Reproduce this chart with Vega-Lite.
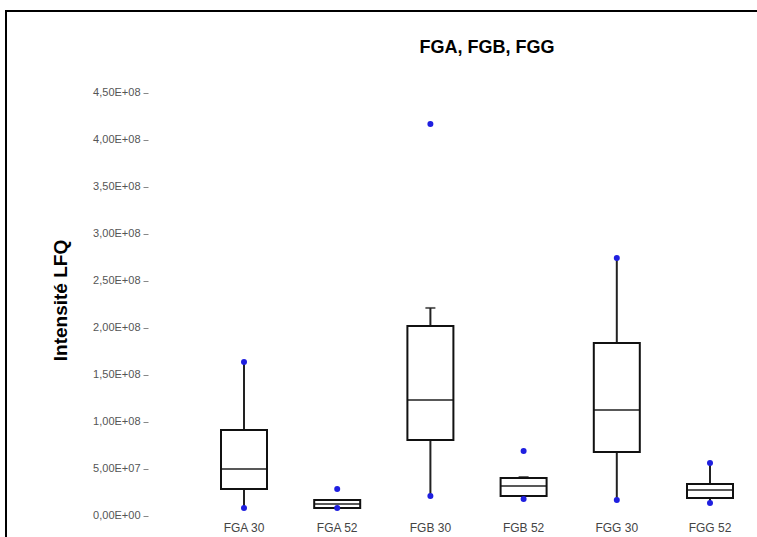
{
  "$schema": "https://vega.github.io/schema/vega-lite/v6.json",
  "autosize": "none",
  "width": 764,
  "height": 530,
  "padding": {"left": 6, "top": 11, "right": 0, "bottom": 0},
  "background": "white",
  "config": {
    "view": {"stroke": "black", "strokeWidth": 2},
    "font": "Liberation Sans"
  },
  "title": {
    "text": "FGA, FGB, FGG",
    "fontSize": 18,
    "fontWeight": "bold",
    "font": "Liberation Sans",
    "anchor": "middle",
    "dx": 99,
    "offset": -46,
    "color": "black"
  },
  "datasets": {
    "boxes": [
      {"g": "FGA 30", "lo": 8.5e6, "q1": 28.7e6, "med": 50.0e6, "q3": 91.5e6, "hi": 163.8e6},
      {"g": "FGA 52", "lo": 8.5e6, "q1": 8.5e6, "med": 12.8e6, "q3": 17.0e6, "hi": 17.0e6},
      {"g": "FGB 30", "lo": 21.3e6, "q1": 80.9e6, "med": 123.4e6, "q3": 202.1e6, "hi": 221.3e6},
      {"g": "FGB 52", "lo": 18.1e6, "q1": 21.3e6, "med": 31.9e6, "q3": 40.4e6, "hi": 40.4e6},
      {"g": "FGG 30", "lo": 17.0e6, "q1": 68.1e6, "med": 112.8e6, "q3": 184.0e6, "hi": 274.5e6},
      {"g": "FGG 52", "lo": 13.8e6, "q1": 19.1e6, "med": 27.7e6, "q3": 34.0e6, "hi": 56.4e6}
    ],
    "caps": [
      {"g": "FGB 30", "v": 221.3e6},
      {"g": "FGB 52", "v": 41.5e6}
    ],
    "points": [
      {"g": "FGA 30", "v": 163.8e6},
      {"g": "FGA 30", "v": 8.5e6},
      {"g": "FGA 52", "v": 28.7e6},
      {"g": "FGA 52", "v": 8.5e6},
      {"g": "FGB 30", "v": 417.0e6},
      {"g": "FGB 30", "v": 21.3e6},
      {"g": "FGB 52", "v": 69.1e6},
      {"g": "FGB 52", "v": 18.1e6},
      {"g": "FGG 30", "v": 274.5e6},
      {"g": "FGG 30", "v": 17.0e6},
      {"g": "FGG 52", "v": 56.4e6},
      {"g": "FGG 52", "v": 13.8e6}
    ]
  },
  "encoding": {
    "x": {
      "field": "g",
      "type": "nominal",
      "sort": null,
      "scale": {"range": [191.4, 750.6], "paddingInner": 0, "paddingOuter": 0},
      "axis": {
        "title": null,
        "orient": "bottom",
        "offset": -21,
        "domain": false,
        "ticks": false,
        "labelAngle": 0,
        "labelFontSize": 12,
        "labelColor": "#444",
        "labelPadding": 2,
        "labelFont": "Liberation Sans"
      }
    }
  },
  "layer": [
    {
      "data": {"name": "boxes"},
      "mark": {"type": "rule", "color": "#222", "strokeWidth": 2},
      "encoding": {
        "y": {
          "field": "lo",
          "type": "quantitative",
          "scale": {"domain": [-26.6e6, 537.2e6], "nice": false, "zero": false},
          "axis": {
            "title": "Intensité LFQ",
            "titleFontSize": 19,
            "titleFontWeight": "bold",
            "titleFont": "Liberation Sans",
            "titleColor": "black",
            "titleAngle": -90,
            "titleX": -88,
            "titleY": 289,
            "titleBaseline": "middle",
            "titleAlign": "center",
            "offset": -142,
            "domain": false,
            "ticks": true,
            "tickSize": 5,
            "tickColor": "#888",
            "grid": false,
            "values": [0, 5e7, 1e8, 1.5e8, 2e8, 2.5e8, 3e8, 3.5e8, 4e8, 4.5e8],
            "labelFontSize": 11,
            "labelColor": "#555",
            "labelPadding": 3,
            "labelFont": "Liberation Sans",
            "labelExpr": "datum.value == 0 ? '0,00E+00' : replace(format(datum.value / pow(10, floor(log(datum.value) / LN10 + 1e-9)), '.2f'), '.', ',') + 'E+' + (floor(log(datum.value) / LN10 + 1e-9) < 10 ? '0' : '') + floor(log(datum.value) / LN10 + 1e-9)"
          }
        },
        "y2": {"field": "hi"}
      }
    },
    {
      "data": {"name": "caps"},
      "mark": {"type": "tick", "color": "#222", "thickness": 2, "size": 10},
      "encoding": {"y": {"field": "v", "type": "quantitative"}}
    },
    {
      "data": {"name": "boxes"},
      "mark": {"type": "bar", "fill": "white", "stroke": "#111", "strokeWidth": 2, "width": 46},
      "encoding": {
        "y": {"field": "q1", "type": "quantitative"},
        "y2": {"field": "q3"}
      }
    },
    {
      "data": {"name": "boxes"},
      "mark": {"type": "tick", "color": "#111", "thickness": 2, "size": 46},
      "encoding": {"y": {"field": "med", "type": "quantitative"}}
    },
    {
      "data": {"name": "points"},
      "mark": {"type": "circle", "color": "#1f1fe0", "opacity": 1, "size": 36},
      "encoding": {"y": {"field": "v", "type": "quantitative"}}
    }
  ]
}
